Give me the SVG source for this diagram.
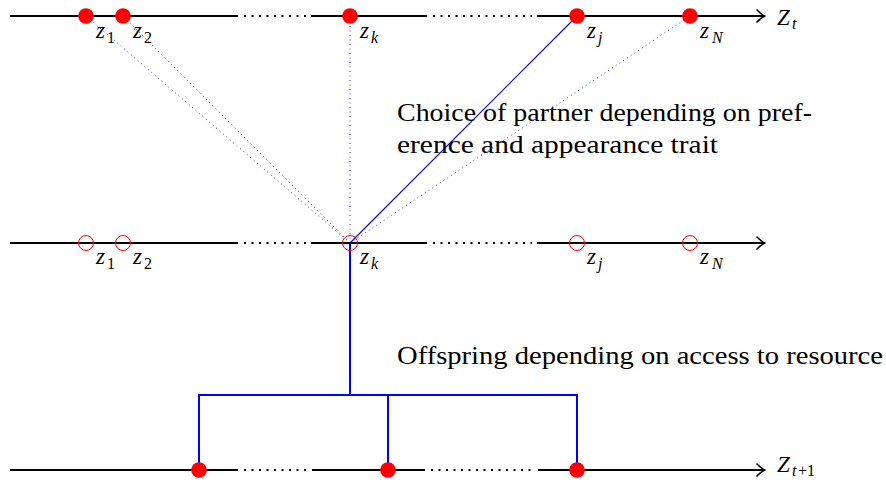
<svg xmlns="http://www.w3.org/2000/svg" width="886" height="484" viewBox="0 0 886 484">
<style>
.axis{stroke:#000;stroke-width:2;fill:none}
.dots{stroke:#000;stroke-width:2;fill:none;stroke-dasharray:2 5.5}
.arr{stroke:#000;stroke-width:1.6;fill:none;stroke-linecap:round;stroke-linejoin:round}
.full{fill:#ff0000}
.open{fill:none;stroke:#ff0000;stroke-width:1}
.blue{stroke:#0000ff;stroke-width:2;fill:none}
.bthin{stroke:#0000ff;stroke-width:1.1;fill:none}
.bdot{stroke:#3a3aff;stroke-width:1;fill:none;stroke-dasharray:1 3.5}
text{font-family:'Liberation Serif','Times New Roman','DejaVu Serif',serif;fill:#000}
.m{font-style:italic}
.lab{font-size:23px}
.sub{font-size:16px}
.body{font-size:26px}
</style>
<g id="connectors">
<line class="bdot" x1="350" y1="243" x2="86" y2="16"/>
<line class="bdot" x1="350" y1="243" x2="123" y2="16"/>
<line class="bdot" x1="350" y1="243" x2="350" y2="16"/>
<line class="bdot" x1="350" y1="243" x2="690" y2="16"/>
<line class="bthin" x1="350" y1="243" x2="577" y2="16"/>
<polyline class="blue" points="350,243 350,395"/>
<polyline class="blue" points="199,470 199,395 577,395 577,470"/>
<polyline class="blue" points="388,395 388,470"/>
</g>
<g id="axis-top">
<line class="axis" x1="10" y1="16" x2="238" y2="16"/>
<line class="dots" x1="244" y1="16" x2="306" y2="16"/>
<line class="axis" x1="311" y1="16" x2="427" y2="16"/>
<line class="dots" x1="433" y1="16" x2="532" y2="16"/>
<line class="axis" x1="537" y1="16" x2="764" y2="16"/>
<path class="arr" d="M757,10 Q762,15 765,16 Q762,17 757,22"/>
<text class="m" x="777" y="25" font-size="23">Z</text><text class="m sub" x="792" y="29">t</text>
</g>
<g id="axis-mid">
<line class="axis" x1="10" y1="243" x2="238" y2="243"/>
<line class="dots" x1="244" y1="243" x2="306" y2="243"/>
<line class="axis" x1="311" y1="243" x2="427" y2="243"/>
<line class="dots" x1="433" y1="243" x2="532" y2="243"/>
<line class="axis" x1="537" y1="243" x2="764" y2="243"/>
<path class="arr" d="M757,237 Q762,242 765,243 Q762,244 757,249"/>
</g>
<g id="axis-bottom">
<line class="axis" x1="10" y1="470" x2="238" y2="470"/>
<line class="dots" x1="244" y1="470" x2="306" y2="470"/>
<line class="axis" x1="312" y1="470" x2="425" y2="470"/>
<line class="dots" x1="431" y1="470" x2="532" y2="470"/>
<line class="axis" x1="538" y1="470" x2="764" y2="470"/>
<path class="arr" d="M757,464 Q762,469 765,470 Q762,471 757,476"/>
<text class="m" x="777" y="472" font-size="23">Z</text><text class="m sub" x="792" y="476">t</text><text class="sub" x="798" y="476">+1</text>
</g>
<g id="node-top-z1"><circle class="full" cx="86" cy="16" r="7.8"/><text class="m lab" x="96" y="38">z</text><text class="sub" x="107" y="43">1</text></g>
<g id="node-top-z2"><circle class="full" cx="123" cy="16" r="7.8"/><text class="m lab" x="133" y="38">z</text><text class="sub" x="144" y="43">2</text></g>
<g id="node-top-zk"><circle class="full" cx="350" cy="16" r="7.8"/><text class="m lab" x="360" y="38">z</text><text class="m sub" x="371" y="43">k</text></g>
<g id="node-top-zj"><circle class="full" cx="577" cy="16" r="7.8"/><text class="m lab" x="587" y="38">z</text><text class="m sub" x="598" y="43">j</text></g>
<g id="node-top-zN"><circle class="full" cx="690" cy="16" r="7.8"/><text class="m lab" x="700" y="38">z</text><text class="m sub" x="712" y="43">N</text></g>
<g id="node-mid-z1"><circle class="open" cx="86" cy="243" r="7.5"/><text class="m lab" x="96" y="264">z</text><text class="sub" x="107" y="269">1</text></g>
<g id="node-mid-z2"><circle class="open" cx="123" cy="243" r="7.5"/><text class="m lab" x="133" y="264">z</text><text class="sub" x="144" y="269">2</text></g>
<g id="node-mid-zk"><circle class="open" cx="350" cy="243" r="7.5"/><text class="m lab" x="360" y="264">z</text><text class="m sub" x="371" y="269">k</text></g>
<g id="node-mid-zj"><circle class="open" cx="577" cy="243" r="7.5"/><text class="m lab" x="587" y="264">z</text><text class="m sub" x="598" y="269">j</text></g>
<g id="node-mid-zN"><circle class="open" cx="690" cy="243" r="7.5"/><text class="m lab" x="700" y="264">z</text><text class="m sub" x="712" y="269">N</text></g>
<g id="node-bot-1"><circle class="full" cx="199" cy="470" r="7.8"/></g>
<g id="node-bot-2"><circle class="full" cx="388" cy="470" r="7.8"/></g>
<g id="node-bot-3"><circle class="full" cx="577" cy="470" r="7.8"/></g>
<g id="label-choice">
<text class="body" x="397" y="121" textLength="415" lengthAdjust="spacingAndGlyphs">Choice of partner depending on pref-</text>
<text class="body" x="397" y="153" textLength="321" lengthAdjust="spacingAndGlyphs">erence and appearance trait</text>
</g>
<g id="label-offspring">
<text class="body" x="397" y="364" textLength="486" lengthAdjust="spacingAndGlyphs">Offspring depending on access to resource</text>
</g>
</svg>
